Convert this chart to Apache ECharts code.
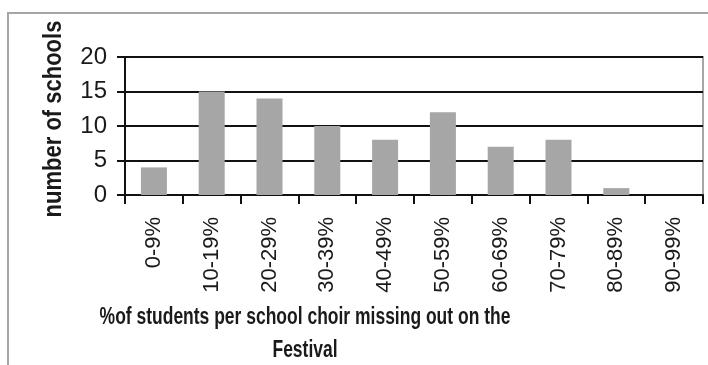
<!DOCTYPE html>
<html>
<head>
<meta charset="utf-8">
<script src="https://cdn.jsdelivr.net/npm/echarts@6/dist/echarts.min.js"></script>
<style>
  html, body { margin: 0; padding: 0; background: #fff; }
  #main { width: 708px; height: 365px; }
</style>
</head>
<body>
<div id="main"></div>
<script>
// categories and counts
const ranges = ['0-9%', '10-19%', '20-29%', '30-39%', '40-49%',
  '50-59%', '60-69%', '70-79%', '80-89%', '90-99%'];
const schools = [4, 15, 14, 10, 8, 12, 7, 8, 1, 0];
const yTicks = [0, 5, 10, 15, 20];
const xTitle = ['%of students per school choir missing out on the', 'Festival'];
const yTitle = 'number of schools';

const chart = echarts.init(document.getElementById('main'), null, { renderer: 'canvas' });

const titleStyle = {
  fontFamily: 'Arial',
  fontWeight: 'bold',
  fontSize: 23,
  fill: '#1a1a1a',
  align: 'center',
  verticalAlign: 'middle'
};

const option = {
  animation: false,
  graphic: [{
    // outer frame of the chart
    type: 'rect',
    shape: { x: 8, y: 13, width: 760, height: 400 },
    style: { fill: 'none', stroke: '#a6a6a6', lineWidth: 2 },
    silent: true
  }, {
    // x title is a condensed face in the original, so squeeze it
    type: 'text',
    x: 305, y: 318, scaleX: 0.76,
    style: Object.assign({ text: xTitle[0] }, titleStyle)
  }, {
    type: 'text',
    x: 305, y: 351, scaleX: 0.76,
    style: Object.assign({ text: xTitle[1] }, titleStyle)
  }, {
    type: 'text',
    x: 54, y: 119, rotation: Math.PI / 2, scaleY: 1.15,
    style: Object.assign({}, titleStyle, { text: yTitle, fontSize: 22 })
  }],
  grid: {
    left: 125,
    top: 57,
    right: 5,
    bottom: 170,
    show: true,
    borderColor: '#a6a6a6',
    borderWidth: 2
  },
  xAxis: {
    type: 'category',
    data: ranges,
    axisLine: { lineStyle: { color: '#111', width: 2 } },
    axisTick: { show: true, length: 9, lineStyle: { color: '#111', width: 2 } },
    axisLabel: {
      rotate: 90,
      margin: 22,
      fontFamily: 'Arial',
      fontSize: 22,
      color: '#1a1a1a'
    }
  },
  yAxis: {
    type: 'value',
    min: 0,
    max: 20,
    interval: 5,
    axisLine: { show: true, lineStyle: { color: '#111', width: 2 } },
    axisTick: { show: true, length: 8, lineStyle: { color: '#111', width: 2 } },
    axisLabel: {
      margin: 18,
      fontFamily: 'Arial',
      fontSize: 24,
      color: '#1a1a1a',
      formatter: v => (yTicks.indexOf(v) >= 0 ? String(v) : '')
    },
    splitLine: { lineStyle: { color: '#111', width: 2 } }
  },
  series: [{
    type: 'bar',
    data: schools,
    barWidth: '45%',
    itemStyle: { color: '#a6a6a6' }
  }]
};

chart.setOption(option);
</script>
</body>
</html>
